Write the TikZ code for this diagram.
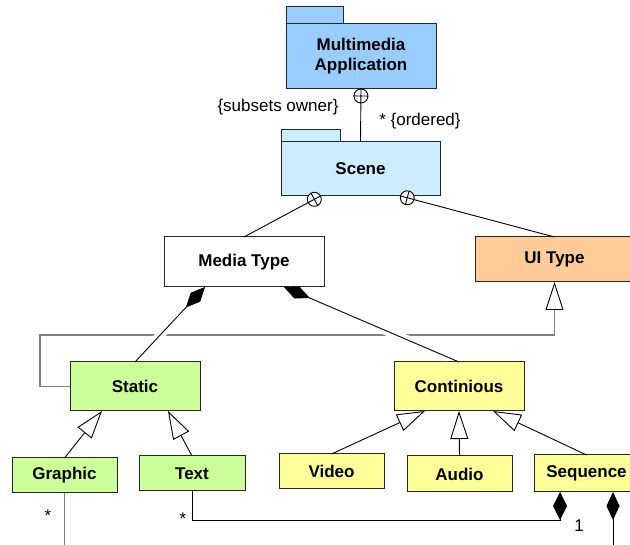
\documentclass[tikz,border=0pt]{standalone}
\usepackage{fontspec}
\setmainfont{Liberation Sans}
\usetikzlibrary{arrows.meta}
\usetikzlibrary{calc}
\usetikzlibrary{decorations.markings}

\definecolor{pkgblue}{HTML}{99CCFF}
\definecolor{scenecyan}{HTML}{CCECFF}
\definecolor{uiorange}{HTML}{FFCC99}
\definecolor{staticgreen}{HTML}{CCFF99}
\definecolor{contyellow}{HTML}{FFFF99}
\definecolor{hopgray}{HTML}{808080}

\tikzset{
  classbox/.style={draw=black!85, line width=1pt, inner sep=0pt, outer sep=0pt,
    font=\bfseries\fontsize{17}{20}\selectfont, align=center},
  tabbox/.style={draw=black!85, line width=1pt, inner sep=0pt, outer sep=0pt, anchor=south west},
  note/.style={inner sep=0pt, font=\fontsize{17}{20}\selectfont},
  link/.style={line width=0.9pt},
  isa/.style={link, -{Triangle[length=28pt, width=18pt, fill=white]}},
  whole/.style={link, {Diamond[length=28pt, width=13pt]}-},
  partof/.style={link, -{Diamond[length=28pt, width=14pt]}},
  contains/.style={link, postaction={decorate}, decoration={markings,
    mark=at position 7pt with {\draw[line width=0.9pt, fill=white] (0,0) circle (7pt);
      \draw[line width=0.9pt] (-7pt,0) -- (7pt,0) (0,-7pt) -- (0,7pt);}}},
  hop/.style={preaction={draw=white, line width=9pt, arrows=-, shorten <=30pt, shorten >=12pt}}
}

\begin{document}
\begin{tikzpicture}[x=1pt, y=-1pt]

\useasboundingbox (0,0) rectangle (630,545);
\clip (0,0) rectangle (630,545);

% Packages at the top
\node[classbox, fill=pkgblue, minimum width=150, minimum height=65] (mmapp) at (361,56.5) {Multimedia\\Application};
\node[tabbox, fill=pkgblue, minimum width=57, minimum height=17] (mmtab) at (mmapp.north west) {};

\node[classbox, fill=scenecyan, minimum width=159, minimum height=54] (scene) at (360.5,169) {Scene};
\node[tabbox, fill=scenecyan, minimum width=59, minimum height=12] (scenetab) at (scene.north west) {};

% Types
\node[classbox, fill=white, minimum width=160, minimum height=50] (media) at (244,262) {Media Type};
\node[classbox, fill=uiorange, minimum width=159, minimum height=45] (uitype) at (554.5,259.5) {UI Type};

\node[classbox, fill=staticgreen, minimum width=130, minimum height=49] (static) at (135,386.5) {Static};
\node[classbox, fill=contyellow, minimum width=130, minimum height=49] (cont) at (459,386.5) {Continious};

% Leaves
\node[classbox, fill=staticgreen, minimum width=105, minimum height=35] (graphic) at (64.5,475.5) {Graphic};
\node[classbox, fill=staticgreen, minimum width=106, minimum height=35] (text) at (192,473.5) {Text};
\node[classbox, fill=contyellow, minimum width=105, minimum height=35] (video) at (331.5,471.5) {Video};
\node[classbox, fill=contyellow, minimum width=105, minimum height=36] (audio) at (459.5,474) {Audio};
\node[classbox, fill=contyellow, minimum width=105, minimum height=37] (seq) at (586.5,473.5) {Sequence};

% Containment
\draw[contains] (mmapp.south) -- (scene.north);
\draw[contains] ($(scene.south)+(-40,0)$) -- (media.north);
\draw[contains] ($(scene.south)+(40,0)$) -- (uitype.north);

\node[note] (owner) at (278,107) {\{subsets owner\}};
\node[note] (ordered) at (420,121) {* \{ordered\}};

% Static is also a UI Type
\draw[line width=1.4pt, hopgray, -{Triangle[length=28pt, width=18pt, fill=white, color=black, line width=0.9pt]}]
  (static.west) -- ++(-30,0) |- ($(uitype.south)+(0,53)$) -- (uitype.south);

% Composition of Media Type
\draw[whole, hop] ($(media.south west)+(41,0)$) -- (static.north);
\draw[whole, hop] ($(media.south east)+(-40,0)$) -- (cont.north);

% Generalisations
\draw[isa] (graphic.north) -- ($(static.south west)+(32,0)$);
\draw[isa] (text.north) -- ($(static.south east)+(-32,0)$);
\draw[isa] (video.north) -- ($(cont.south west)+(31,0)$);
\draw[isa] (audio.north) -- (cont.south);
\draw[isa] (seq.north) -- ($(cont.south east)+(-31,0)$);

% Sequence parts
\coordinate (seqa) at ($(seq.south west)+(26,0)$);
\coordinate (seqb) at ($(seq.south west)+(79,0)$);
\coordinate (seqfoot) at (613,545);
\coordinate (graphicfoot) at (64.5,545);

\draw[partof] (text.south) -- ++(0,29) -| (seqa);
\draw[whole] (seqb) -- (seqfoot);
\draw[line width=1.4pt, hopgray] (graphic.south) -- (graphicfoot);

\node[note] (graphicstar) at (48,516) {*};
\node[note] (textstar) at (183,519) {*};
\node[note] (seqone) at (579,526) {1};

\end{tikzpicture}
\end{document}
